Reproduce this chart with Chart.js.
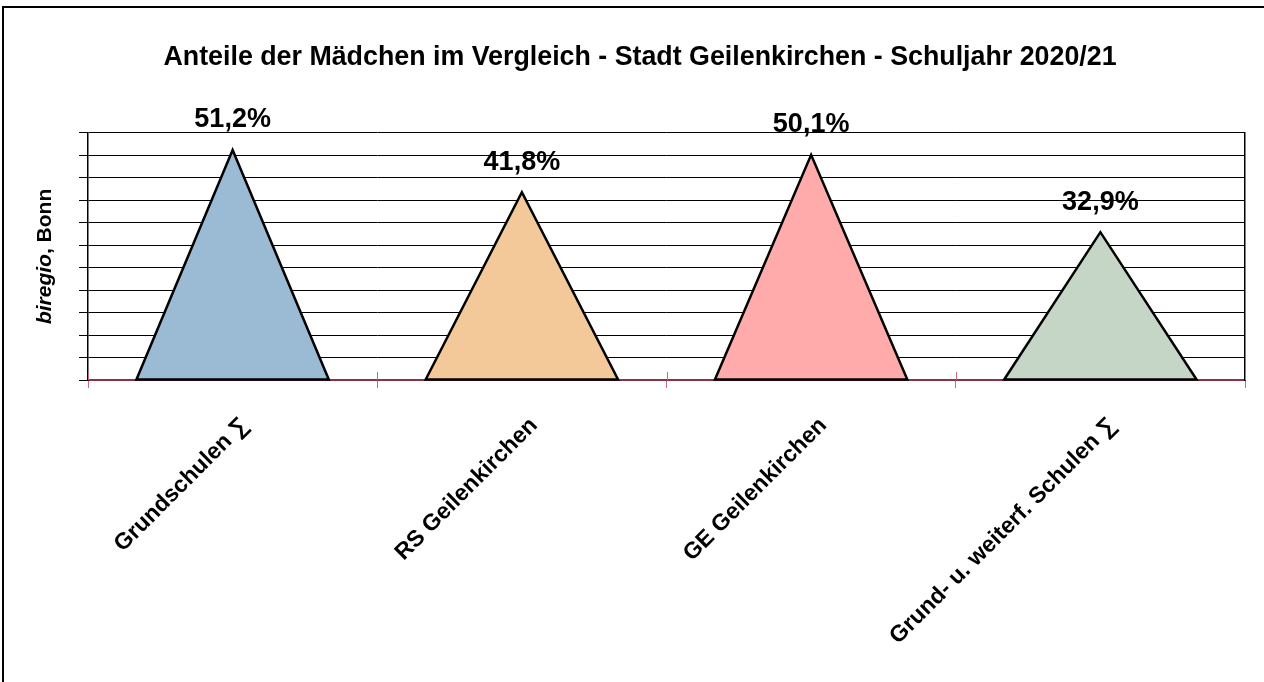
<!DOCTYPE html>
<html>
<head>
<meta charset="utf-8">
<script src="https://cdn.jsdelivr.net/npm/chart.js@4/dist/chart.umd.min.js"></script>
<style>
  body { margin: 0; background: #fff; }
  #wrap { position: relative; width: 1264px; height: 682px; overflow: hidden; }
  #frame { position: absolute; left: 2px; top: 6px; width: 1400px; height: 800px; border: 2px solid #000; }
  #chart { position: absolute; left: 0; top: 0; }
</style>
</head>
<body>
<div id="wrap">
  <div id="frame"></div>
  <canvas id="chart" width="1264" height="682"></canvas>
</div>
<script>
var schulen = ["Grundschulen \u2211", "RS Geilenkirchen", "GE Geilenkirchen", "Grund- u. weiterf. Schulen \u2211"];
var anteile = [51.2, 41.8, 50.1, 32.9];
var farben = ["#9bbad3", "#f4c99a", "#ffabab", "#c5d6c6"];
var yMax = 55;
var yStep = 5;

var font = "'Liberation Sans', Arial, sans-serif";

// triangles instead of bars, drawn from the bar elements
var dreiecke = {
    id: 'dreiecke',
    afterDatasetsDraw: function(chart){
        var ctx = chart.ctx;
        var meta = chart.getDatasetMeta(0);
        ctx.save();
        meta.data.forEach(function(el, i){
            var w = el.width / 2;
            ctx.beginPath();
            ctx.moveTo(el.x - w, el.base);
            ctx.lineTo(el.x, el.y);
            ctx.lineTo(el.x + w, el.base);
            ctx.closePath();
            ctx.fillStyle = farben[i];
            ctx.fill();
            ctx.lineWidth = 2.5;
            ctx.strokeStyle = '#000';
            ctx.lineJoin = 'miter';
            ctx.stroke();

            ctx.fillStyle = '#000';
            ctx.font = 'bold 27px ' + font;
            ctx.textAlign = 'center';
            ctx.textBaseline = 'middle';
            ctx.fillText(anteile[i].toFixed(1).replace('.', ',') + '%', el.x, el.y - 30);
        });

        // category tick marks cross the axis line
        var sx = chart.scales.x;
        var half = (sx.getPixelForValue(1) - sx.getPixelForValue(0)) / 2;
        ctx.strokeStyle = '#c86a7e';
        ctx.lineWidth = 1;
        for (var k = 0; k <= schulen.length; k++) {
            var px = Math.round(sx.getPixelForValue(0) - half + k * 2 * half) + 0.5;
            ctx.beginPath();
            ctx.moveTo(px, sx.top - 8);
            ctx.lineTo(px, sx.top);
            ctx.stroke();
        }
        ctx.restore();
    }
};

// y axis caption with italic part
var achsentitel = {
    id: 'achsentitel',
    afterDraw: function(chart){
        var ctx = chart.ctx;
        var a = chart.chartArea;
        var t1 = 'biregio', t2 = ', Bonn';
        ctx.save();
        ctx.translate(45, (a.top + a.bottom) / 2);
        ctx.rotate(-Math.PI / 2);
        ctx.fillStyle = '#000';
        ctx.textBaseline = 'middle';
        ctx.font = 'italic bold 21px ' + font;
        var w1 = ctx.measureText(t1).width;
        ctx.font = 'bold 21px ' + font;
        var w2 = ctx.measureText(t2).width;
        var x0 = -(w1 + w2) / 2;
        ctx.textAlign = 'left';
        ctx.font = 'italic bold 21px ' + font;
        ctx.fillText(t1, x0, 0);
        ctx.font = 'bold 21px ' + font;
        ctx.fillText(t2, x0 + w1, 0);
        ctx.restore();
    }
};

var ctx = document.getElementById('chart').getContext('2d');
var chart = new Chart(ctx, {
    type: 'bar',
    data: {
        labels: schulen,
        datasets: [{
            data: anteile,
            backgroundColor: 'rgba(0,0,0,0)',
            borderWidth: 0,
            barPercentage: 0.665,
            categoryPercentage: 1
        }]
    },
    options: {
        responsive: false,
        animation: false,
        layout: { padding: { left: 16, right: 0, top: 0, bottom: 0 } },
        plugins: {
            legend: { display: false },
            tooltip: { enabled: false },
            title: {
                display: true,
                text: 'Anteile der Mädchen im Vergleich - Stadt Geilenkirchen - Schuljahr 2020/21',
                color: '#000',
                font: { family: font, size: 26.8, weight: 'bold' },
                padding: { top: 42, bottom: 58.7 }
            }
        },
        scales: {
            x: {
                grid: {
                    display: true,
                    drawOnChartArea: false,
                    drawTicks: true,
                    tickLength: 8,
                    color: '#c86a7e',
                    offset: true
                },
                border: { display: true, color: '#8b3346', width: 2 },
                ticks: {
                    color: '#000',
                    font: { family: font, size: 23, weight: 'bold' },
                    minRotation: 45,
                    maxRotation: 45,
                    padding: 24,
                    labelOffset: 12
                },
                afterFit: function(scale){ scale.height = 302; }
            },
            y: {
                min: 0,
                max: yMax,
                ticks: { display: false, stepSize: yStep },
                grid: { color: '#000', lineWidth: 1, tickLength: 9, drawTicks: true },
                border: { display: true, color: '#000', width: 1.5 },
                afterFit: function(scale){ scale.width = 72; }
            },
            y2: {
                position: 'right',
                min: 0,
                max: yMax,
                ticks: { display: false },
                grid: { display: false, drawTicks: false },
                border: { display: true, color: '#000', width: 1.5 },
                afterFit: function(scale){ scale.width = 19; }
            }
        }
    },
    plugins: [dreiecke, achsentitel]
});
</script>
</body>
</html>
